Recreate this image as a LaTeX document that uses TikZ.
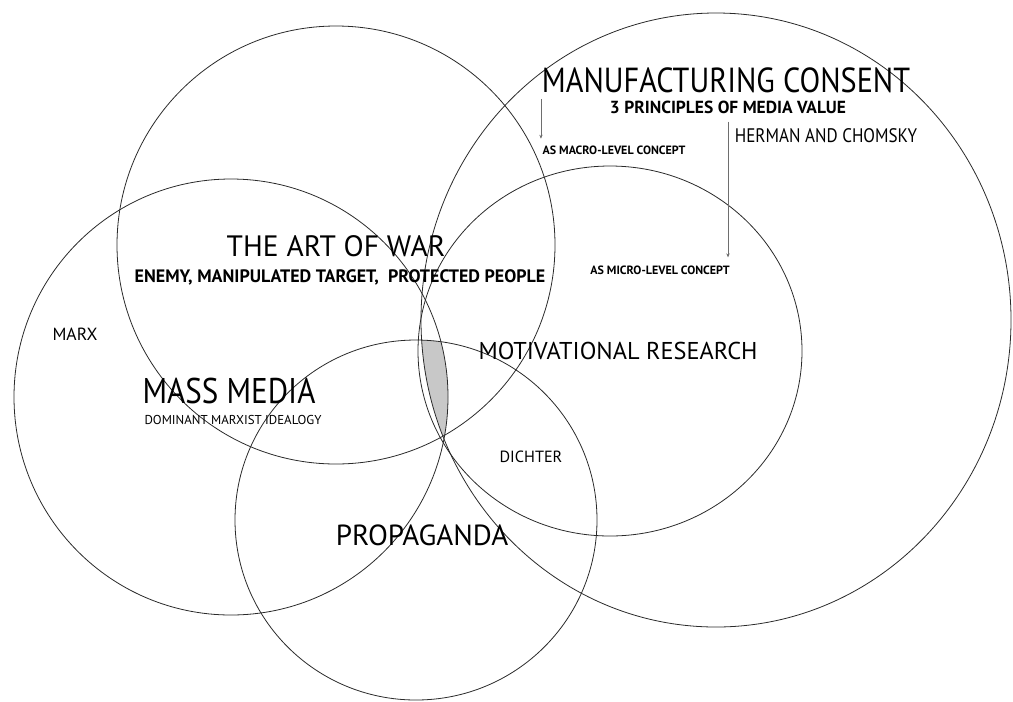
\documentclass[tikz,border=0pt]{standalone}
\usepackage{fontspec}
\setmainfont{PT Sans}
\newfontfamily\narrowsans{PT Sans}[FakeStretch=0.87]
\usepackage{tikz}
\usetikzlibrary{arrows.meta}

\definecolor{ringgray}{HTML}{2A2A2A}
\definecolor{lensgray}{HTML}{C8C8C8}
\definecolor{pointergray}{HTML}{6E6E6E}

\tikzset{
  ring/.style={draw=ringgray, line width=0.6pt},
  label/.style={inner sep=0pt, text=black},
  pointer/.style={draw=pointergray, line width=0.4pt, -{Stealth[length=3pt,width=2.5pt]}}
}

\begin{document}
\begin{tikzpicture}[x=0.75pt, y=-0.75pt]
  \useasboundingbox (0,0) rectangle (1013,701);

  % Shared area of all five
  \begin{scope}
    \clip (336,245) ellipse [x radius=219, y radius=219];
    \clip (231,397) ellipse [x radius=217, y radius=218];
    \clip (416,520) ellipse [x radius=181, y radius=180];
    \clip (610,351) ellipse [x radius=192, y radius=185];
    \clip (716,320) ellipse [x radius=295, y radius=307];
    \fill[lensgray] (0,0) rectangle (1013,701);
  \end{scope}

  % Rings
  \draw[ring] (336,245) ellipse [x radius=219, y radius=219];
  \draw[ring] (231,397) ellipse [x radius=217, y radius=218];
  \draw[ring] (416,520) ellipse [x radius=181, y radius=180];
  \draw[ring] (610,351) ellipse [x radius=192, y radius=185];
  \draw[ring] (716,320) ellipse [x radius=295, y radius=307];

  % Labels
  \node[label, font=\narrowsans\fontsize{26.1}{26}\selectfont] (consent) at (726,80) {MANUFACTURING CONSENT};
  \node[label, font=\fontsize{13.1}{14}\bfseries] (principles) at (728,107) {3 PRINCIPLES OF MEDIA VALUE};
  \node[label, font=\narrowsans\fontsize{14.7}{15}\selectfont] (chomsky) at (826,136) {HERMAN AND CHOMSKY};
  \node[label, font=\fontsize{9}{10}\bfseries] (macro) at (614,150) {AS MACRO-LEVEL CONCEPT};
  \node[label, font=\fontsize{9}{10}\bfseries] (micro) at (660,270) {AS MICRO-LEVEL CONCEPT};
  \node[label, font=\fontsize{22.1}{22}\selectfont] (war) at (336,246) {THE ART OF WAR};
  \node[label, font=\fontsize{13.5}{14}\bfseries] (sides) at (340,277) {ENEMY, MANIPULATED TARGET,\ \ PROTECTED PEOPLE};
  \node[label, font=\fontsize{18.25}{19}\selectfont] (motive) at (618,351) {MOTIVATIONAL RESEARCH};
  \node[label, font=\fontsize{13.2}{14}\selectfont] (marx) at (75,334) {MARX};
  \node[label, font=\narrowsans\fontsize{26.8}{27}\selectfont] (media) at (229,391) {MASS MEDIA};
  \node[label, font=\fontsize{9.66}{10}\selectfont] (ideology) at (233,420) {DOMINANT MARXIST IDEALOGY};
  \node[label, font=\fontsize{12.15}{13}\selectfont] (dichter) at (531,457) {DICHTER};
  \node[label, font=\fontsize{21.8}{22}\selectfont] (propaganda) at (422,535) {PROPAGANDA};

  % Pointers
  \draw[pointer] ([xshift=-0.5pt,yshift=-4.5pt]consent.south west) -- ([xshift=-0.5pt,yshift=5pt]consent.south west |- macro.north);
  \draw[pointer] ([yshift=-6pt]principles.south) -- ([yshift=6pt]principles.south |- micro.north);
\end{tikzpicture}
\end{document}
